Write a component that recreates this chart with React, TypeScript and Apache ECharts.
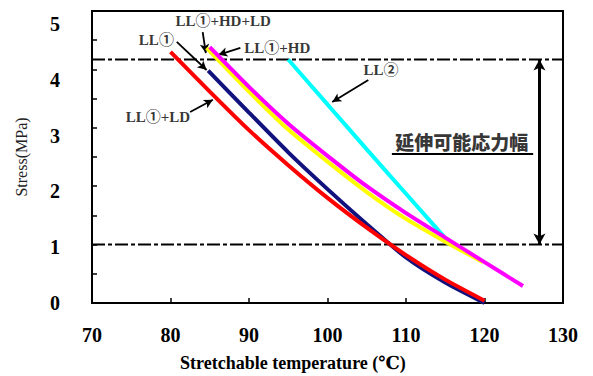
import React, { useEffect, useRef } from 'react';
import * as echarts from 'echarts';

// Axis ticks
const xTicks = [70, 80, 90, 100, 110, 120, 130];
const yTicks = [0, 1, 2, 3, 4, 5];

// Series: stretchable temperature (°C) vs stress (MPa)
const tempLD = [80, 85, 90, 95, 100, 105, 110, 115, 120];
const stressLD = [4.3, 3.62, 2.96, 2.36, 1.8, 1.29, 0.82, 0.4, 0.04];
const tempLL1 = [84.8, 90, 95, 100, 105, 110, 115, 120];
const stressLL1 = [3.98, 3.26, 2.58, 1.95, 1.35, 0.78, 0.35, 0.0];
const tempHDLD = [84.6, 90, 95, 100, 105, 110, 115, 119.8];
const stressHDLD = [4.37, 3.62, 2.97, 2.42, 1.9, 1.44, 1.05, 0.7];
const tempHD = [85, 90, 95, 100, 105, 110, 115, 120, 124.9];
const stressHD = [4.38, 3.7, 3.07, 2.52, 2.0, 1.54, 1.12, 0.7, 0.29];
const tempLL2 = [95, 100, 105, 110, 115.8];
const stressLL2 = [4.17, 3.4, 2.63, 1.87, 0.99];

// Stretchable stress range
const limitUpper = 4.17;
const limitLower = 1.0;
const rangeArrowTemp = 127;
const rangeText = '延伸可能応力幅';
const rangeTextPos = [117.1, 2.76];
const rangeUnderline = [[108.2, 2.56], [126.2, 2.56]];

// Annotations
const labelNames = ['LL①+HD+LD', 'LL①', 'LL①+HD', 'LL①+LD', 'LL②'];
const labelPos = [[86.7, 4.83], [78.2, 4.5], [93.6, 4.37], [78.4, 3.18], [106.8, 3.99]];
const arrowFrom = [[84.1, 4.64], [80.8, 4.47], [88.9, 4.37], [82.5, 3.27], [105.2, 3.82]];
const arrowTo = [[84.5, 4.28], [84.6, 3.99], [86.1, 4.25], [85.4, 3.48], [100.6, 3.44]];

const serif = '"Liberation Serif", "Times New Roman", "DejaVu Serif", "Noto Sans CJK JP", serif';

function zip(xs: number[], ys: number[]) {
  return xs.map((x, i) => [x, ys[i]]);
}

export default function App() {
  const ref = useRef<HTMLDivElement>(null);
  useEffect(() => {
    if (!ref.current) return;
    const chart = echarts.init(ref.current, undefined, { renderer: 'svg' });
    const curve = (name: string, xs: number[], ys: number[], color: string, z: number) => ({
      name,
      type: 'line',
      data: zip(xs, ys),
      symbol: 'none',
      smooth: 0.2,
      z,
      lineStyle: { color, width: 4 },
    });
    const dashLine = (v: number, extra: any) => ({
      type: 'line',
      data: [[xTicks[0], v], [xTicks[xTicks.length - 1], v]],
      symbol: 'none',
      z: 3,
      lineStyle: { color: '#000', width: 2, type: [13, 3, 4, 3] },
      ...extra,
    });
    chart.setOption({
      animation: false,
      grid: {
        left: 92,
        top: 11,
        right: 30,
        bottom: 73,
        show: true,
        borderColor: '#000',
        borderWidth: 2,
      },
      xAxis: {
        type: 'value',
        min: xTicks[0],
        max: xTicks[xTicks.length - 1],
        interval: 10,
        axisLine: { lineStyle: { color: '#000', width: 2 } },
        axisTick: { inside: true, length: 5, lineStyle: { color: '#000', width: 1.5 } },
        splitLine: { show: false },
        axisLabel: {
          margin: 22,
          color: '#000',
          fontFamily: serif,
          fontWeight: 'bold',
          fontSize: 20,
        },
      },
      yAxis: [
        {
          type: 'value',
          min: 0,
          max: yTicks[yTicks.length - 1],
          interval: 0.5,
          axisLine: { show: true, lineStyle: { color: '#000', width: 2 } },
          axisTick: { show: true, inside: true, length: 5, lineStyle: { color: '#000', width: 1.5 } },
          axisLabel: { show: false },
          splitLine: { show: false },
        },
        {
          type: 'value',
          position: 'left',
          min: 0,
          max: 5.23,
          interval: 1,
          axisLine: { show: false },
          axisTick: { show: false },
          splitLine: { show: false },
          axisLabel: {
            showMaxLabel: false,
            margin: 32,
            color: '#000',
            fontFamily: serif,
            fontWeight: 'bold',
            fontSize: 20,
            formatter: (v: number) => (yTicks.includes(v) ? String(v) : ''),
          },
          name: 'Stress(MPa)',
          nameLocation: 'middle',
          nameGap: 63,
          nameTextStyle: { color: '#222', fontFamily: serif, fontSize: 16 },
        },
      ],
      series: [
        dashLine(limitUpper, {
          markLine: {
            silent: true,
            symbol: ['none', 'arrow'],
            symbolSize: [7, 9],
            label: { show: false },
            lineStyle: { color: '#000', width: 1.8, type: 'solid' },
            data: arrowFrom.map((f, i) => [{ coord: f }, { coord: arrowTo[i] }]),
          },
        }),
        dashLine(limitLower, {
          markLine: {
            silent: true,
            symbol: ['arrow', 'arrow'],
            symbolSize: [9, 11],
            label: { show: false },
            lineStyle: { color: '#000', width: 3, type: 'solid' },
            data: [
              [
                { coord: [rangeArrowTemp, limitLower] },
                { coord: [rangeArrowTemp, limitUpper] },
              ],
              [
                { coord: rangeUnderline[0], symbol: 'none' },
                { coord: rangeUnderline[1], symbol: 'none', lineStyle: { width: 2 } },
              ],
            ],
          },
        }),
        curve('LL①', tempLL1, stressLL1, '#12127e', 4),
        curve('LL①+LD', tempLD, stressLD, '#ff0000', 5),
        curve('LL②', tempLL2, stressLL2, '#00ffff', 6),
        curve('LL①+HD+LD', tempHDLD, stressHDLD, '#ffff00', 7),
        curve('LL①+HD', tempHD, stressHD, '#ff00ff', 8),
        {
          type: 'scatter',
          symbolSize: 1,
          z: 10,
          itemStyle: { color: 'rgba(0,0,0,0)' },
          data: [
            ...labelNames.map((n, i) => ({
              name: n,
              value: labelPos[i],
              label: { fontSize: 15, fontFamily: serif },
            })),
            {
              name: rangeText,
              value: rangeTextPos,
              label: { fontSize: 19, fontFamily: '"Noto Sans CJK JP", sans-serif', fontWeight: 900 },
            },
          ],
          label: {
            show: true,
            position: 'inside',
            formatter: (p: any) => p.name,
            color: '#000',
            fontWeight: 'bold',
          },
        },
      ],
    });
    return () => chart.dispose();
  }, []);
  return (
    <div
      ref={ref}
      style={{ position: 'fixed', left: 0, top: 0, width: 593, height: 376, background: '#fff' }}
    >
      <div
        style={{
          position: 'absolute',
          left: 180,
          top: 352,
          fontFamily: serif,
          fontWeight: 'bold',
          fontSize: 18,
          color: '#000',
          whiteSpace: 'nowrap',
          zIndex: 5,
        }}
      >
        Stretchable temperature (℃)
      </div>
    </div>
  );
}
